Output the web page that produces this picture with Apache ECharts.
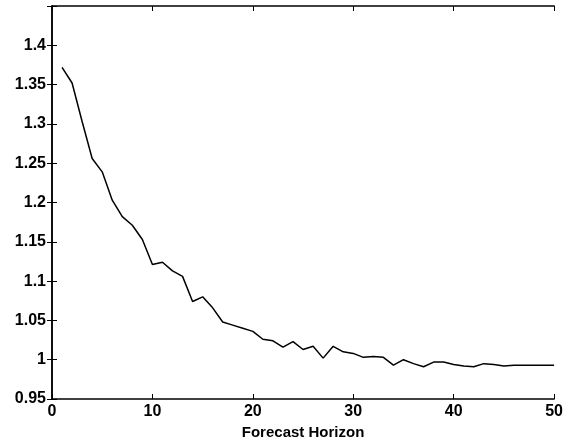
<!DOCTYPE html>
<html>
<head>
<meta charset="utf-8">
<script src="https://cdn.jsdelivr.net/npm/echarts@6/dist/echarts.min.js"></script>
<style>
  html, body { margin: 0; padding: 0; background: #fff; }
  #chart { width: 566px; height: 445px; }
</style>
</head>
<body>
<div id="chart"></div>
<script>
// forecast horizon 1..50
const horizon = []
for (let h = 1; h <= 50; h++) horizon.push(h)

const ratio = [
  1.372, 1.352, 1.303, 1.256, 1.239, 1.203, 1.182, 1.171, 1.153, 1.121,
  1.124, 1.113, 1.106, 1.074, 1.080, 1.066, 1.048, 1.044, 1.040, 1.036,
  1.026, 1.024, 1.016, 1.023, 1.013, 1.017, 1.002, 1.017, 1.010, 1.008,
  1.003, 1.004, 1.003, 0.993, 1.000, 0.995, 0.991, 0.997, 0.997, 0.994,
  0.992, 0.991, 0.995, 0.994, 0.992, 0.993, 0.993, 0.993, 0.993, 0.993
]

const xTicks = [0, 10, 20, 30, 40, 50]
const yTicks = [0.95, 1, 1.05, 1.1, 1.15, 1.2, 1.25, 1.3, 1.35, 1.4]

const labelFont = { color: '#000', fontFamily: 'Liberation Sans', fontWeight: 'bold', fontSize: 16 }

function fmtY (v) {
  return yTicks.some(t => Math.abs(t - v) < 1e-9) ? String(+v.toFixed(2)) : ''
}

let myChart = echarts.init(document.getElementById('chart'))
myChart.setOption({
  animation: false,
  grid: { left: 52, right: 11, top: 6, bottom: 46 },
  xAxis: [{
    type: 'value', min: 0, max: 50, interval: 10,
    axisLine: { lineStyle: { color: '#000', width: 1.5 } },
    axisTick: { inside: true, length: 5, lineStyle: { color: '#000' } },
    axisLabel: Object.assign({ margin: 5 }, labelFont),
    splitLine: { show: false },
    name: 'Forecast Horizon', nameLocation: 'middle', nameGap: 26,
    nameTextStyle: { color: '#000', fontFamily: 'Liberation Sans', fontWeight: 'bold', fontSize: 15 }
  }, {
    type: 'value', min: 0, max: 50, interval: 10, position: 'top',
    axisLine: { show: true, lineStyle: { color: '#000', width: 1.5 } },
    axisTick: { inside: true, length: 5, lineStyle: { color: '#000' } },
    axisLabel: { show: false }, splitLine: { show: false }
  }],
  yAxis: [{
    type: 'value', min: 0.95, max: 1.45, interval: 0.05,
    axisLine: { show: true, lineStyle: { color: '#000', width: 1.5 } },
    axisTick: { inside: true, length: 5, lineStyle: { color: '#000' } },
    axisLabel: Object.assign({ margin: 6, formatter: fmtY }, labelFont),
    splitLine: { show: false }
  }, {
    type: 'value', min: 0.95, max: 1.45, interval: 0.05, position: 'right',
    axisLine: { show: true, lineStyle: { color: '#000', width: 1.5 } },
    axisTick: { inside: true, length: 5, lineStyle: { color: '#000' } },
    axisLabel: { show: false }, splitLine: { show: false }
  }],
  series: [{
    type: 'line',
    data: horizon.map((h, i) => [h, ratio[i]]),
    showSymbol: false,
    lineStyle: { color: '#000', width: 1.5 }
  }]
})
</script>
</body>
</html>
